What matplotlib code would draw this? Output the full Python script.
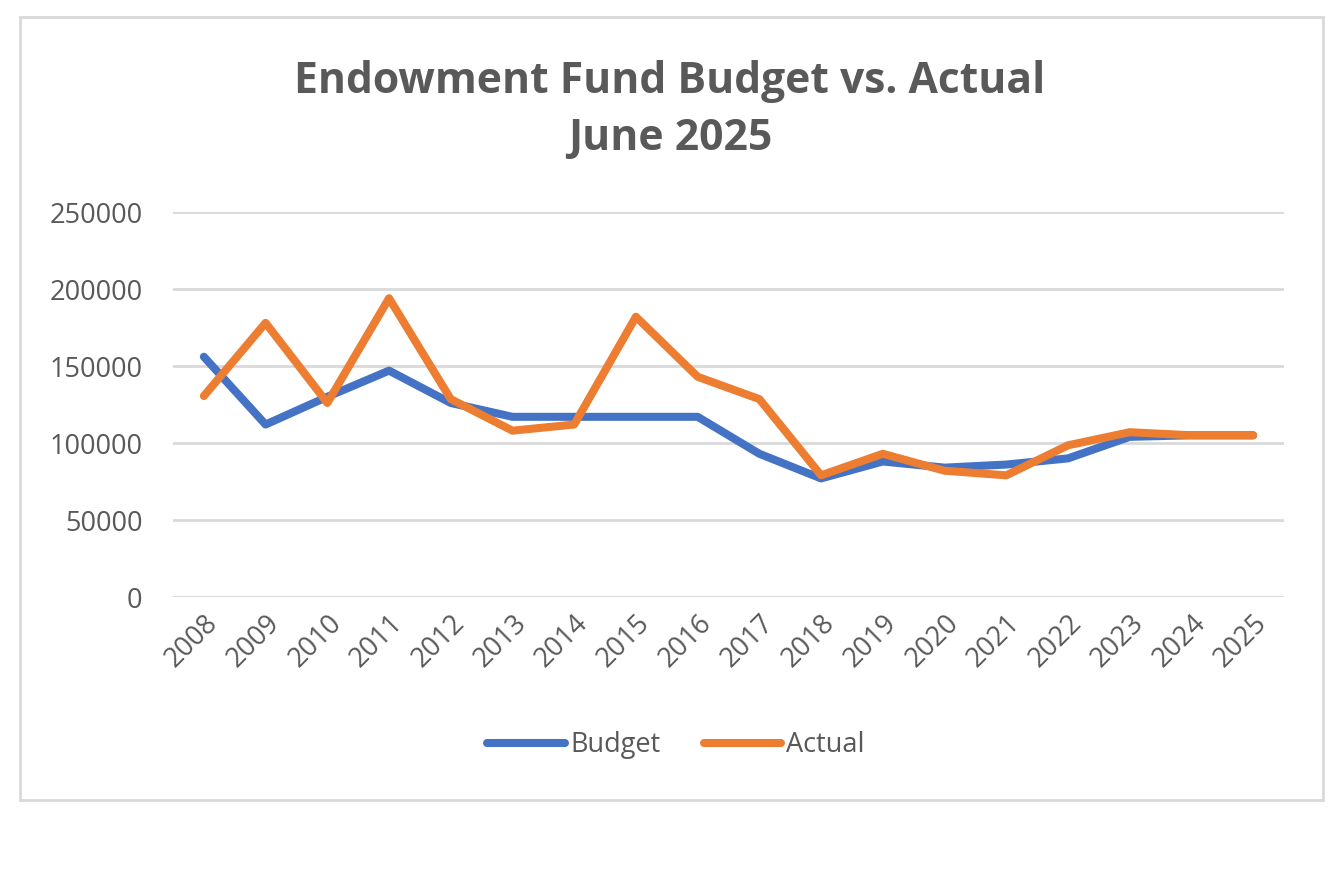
import matplotlib
matplotlib.use("Agg")
import matplotlib.pyplot as plt
from matplotlib.patches import Rectangle

years = ["2008", "2009", "2010", "2011", "2012", "2013", "2014", "2015", "2016",
         "2017", "2018", "2019", "2020", "2021", "2022", "2023", "2024", "2025"]
budget = [156000, 112000, 130000, 147000, 126000, 117000, 117000, 117000, 117000,
          93000, 77000, 88000, 84000, 86000, 90000, 104000, 105000, 105000]
actual = [130500, 178000, 126000, 194000, 128500, 108000, 112000, 182000, 143000,
          128500, 79000, 93000, 82000, 79000, 98500, 107000, 105000, 105000]
yticks = [0, 50000, 100000, 150000, 200000, 250000]

plt.rcParams['font.family'] = ['Open Sans', 'DejaVu Sans']
W, H = 1344, 896
fig = plt.figure(figsize=(W/100, H/100), dpi=100)
fig.patch.set_facecolor('white')

# chart frame
fig.add_artist(Rectangle((20/W, 1 - 800/H), (1323-20)/W, (800-17)/H,
                         transform=fig.transFigure, fill=False,
                         edgecolor='#D9D9D9', linewidth=2))

ax = fig.add_axes([173/W, 1 - 597/H, (1284-173)/W, (597-212)/H])
x = list(range(len(years)))
ax.plot(x, budget, color='#4472C4', linewidth=5.8, solid_capstyle='round',
        solid_joinstyle='round', label='Budget')
ax.plot(x, actual, color='#ED7D31', linewidth=5.8, solid_capstyle='round',
        solid_joinstyle='round', label='Actual')
ax.set_xlim(-0.5, len(years) - 0.5)
ax.set_ylim(0, 250000)
ax.set_yticks(yticks)
ax.set_yticklabels([str(v) for v in yticks], fontsize=19.5, color='#595959')
ax.set_xticks(x)
ax.set_xticklabels(years, rotation=45, ha='right', rotation_mode='anchor',
                   fontsize=19.5, color='#595959')
ax.tick_params(axis='both', length=0)
ax.tick_params(axis='y', pad=22)
ax.tick_params(axis='x', pad=9)
for s in ax.spines.values():
    s.set_visible(False)
ax.grid(axis='y', color='#D9D9D9', linewidth=2)
ax.set_axisbelow(True)

fig.text(670/W, 1 - 110/H, "Endowment Fund Budget vs. Actual\nJune 2025",
         ha='center', va='center', fontsize=30.7, fontweight='bold',
         color='#595959', linespacing=1.45)

leg = fig.legend(loc='center', bbox_to_anchor=(676/W, 1 - 745/H), ncol=2,
                 frameon=False, fontsize=19.5, handlelength=2.85, columnspacing=1.6,
                 handletextpad=0.2)
for t in leg.get_texts():
    t.set_color('#595959')

fig.savefig('out.png', dpi=100, facecolor='white')
